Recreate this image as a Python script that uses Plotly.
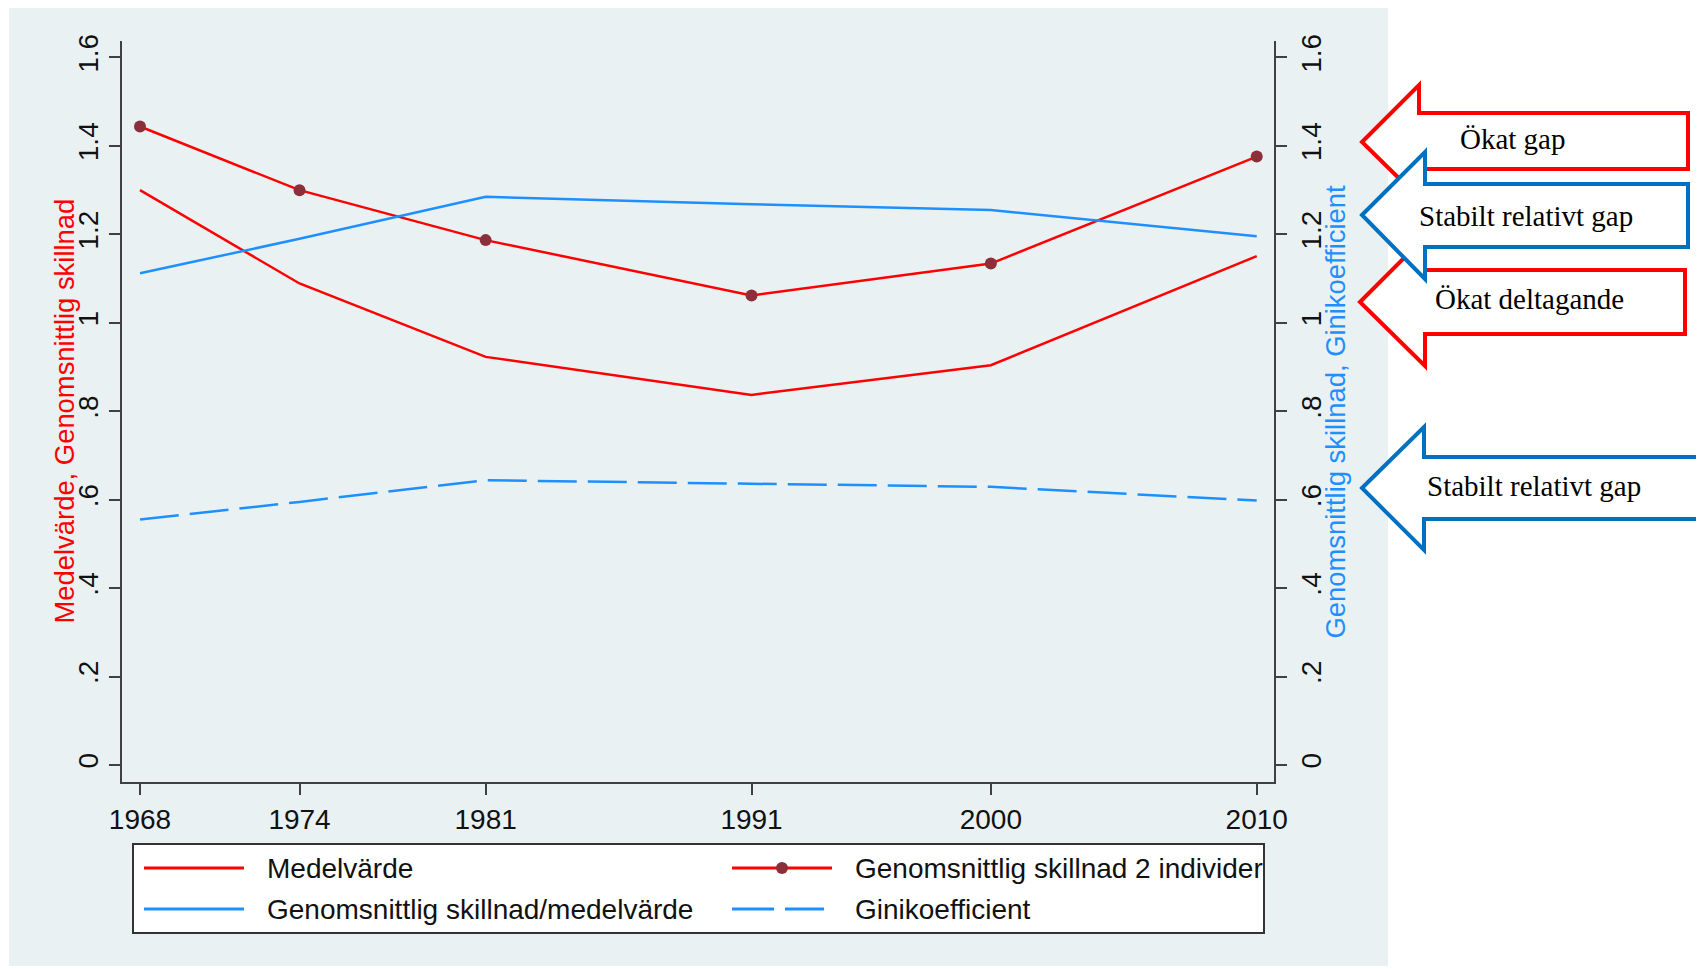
import plotly.graph_objects as go

# data
years = [1968, 1974, 1981, 1991, 2000, 2010]
medelvarde = [1.300, 1.089, 0.923, 0.837, 0.904, 1.151]
skillnad_2ind = [1.444, 1.300, 1.187, 1.062, 1.134, 1.376]
skillnad_per_medel = [1.112, 1.190, 1.285, 1.268, 1.255, 1.196]
gini = [0.555, 0.595, 0.644, 0.636, 0.629, 0.598]

y_ticks = [0, 0.2, 0.4, 0.6, 0.8, 1.0, 1.2, 1.4, 1.6]
y_labels = ["0", ".2", ".4", ".6", ".8", "1", "1.2", "1.4", "1.6"]

legend_names = ["Medelvärde", "Genomsnittlig skillnad 2 individer",
                "Genomsnittlig skillnad/medelvärde", "Ginikoefficient"]
arrow_texts = ["Ökat gap", "Stabilt relativt gap", "Ökat deltagande", "Stabilt relativt gap"]

# page size and plot box in page pixels; the page body adds an 8px margin
W, H = 1704, 969
OFF = 8
L, R, T, B = 122, 1274, 41, 782

RED = "#FF0000"
BLUE = "#1E8FFF"
ARROW_BLUE = "#0070C0"
MAROON = "#8B2F3A"
GREY_BG = "#EAF1F3"
GRID = "#EAF1F3"
AXIS = "#404040"
FONT = "Liberation Sans"


def px(x):
    return (x - L) / (R - L)


def py(y):
    return (B - y) / (B - T)


fig = go.Figure()
fig.add_trace(go.Scatter(x=years, y=medelvarde, mode="lines", name=legend_names[0],
                         line=dict(color=RED, width=2.5)))
fig.add_trace(go.Scatter(x=years, y=skillnad_2ind, mode="lines+markers", name=legend_names[1],
                         line=dict(color=RED, width=2.5),
                         marker=dict(color=MAROON, size=12)))
fig.add_trace(go.Scatter(x=years, y=skillnad_per_medel, mode="lines", name=legend_names[2],
                         line=dict(color=BLUE, width=2.5), yaxis="y2"))
fig.add_trace(go.Scatter(x=years, y=gini, mode="lines", name=legend_names[3],
                         line=dict(color=BLUE, width=2.5, dash="39px,11px"), yaxis="y2"))

yrange = [-0.0384, 1.6373]
xrange = [1967.323, 2010.65]

shapes = []
annotations = []

# grey graph region
shapes.append(dict(type="rect", xref="paper", yref="paper", layer="below",
                   x0=px(9), x1=px(1388), y0=py(966), y1=py(5),
                   fillcolor=GREY_BG, line_width=0))

# manual Stata-style legend
lx0, lx1, ly0, ly1 = 133, 1264, 844, 933
shapes.append(dict(type="rect", xref="paper", yref="paper",
                   x0=px(lx0), x1=px(lx1), y0=py(ly1), y1=py(ly0),
                   fillcolor="white", line=dict(color="#333333", width=2)))
rows = [868, 909]
cols = [(144, 244, 265), (732, 832, 853)]
entries = [
    (0, 0, RED, False, False),
    (0, 1, RED, False, True),
    (1, 0, BLUE, False, False),
    (1, 1, BLUE, True, False),
]
for i, (r, c, color, dash, marker) in enumerate(entries):
    x0, x1, xt = cols[c]
    yy = rows[r]
    segs = [(x0, x0 + 42), (x0 + 53, x1 - 8)] if dash else [(x0, x1)]
    for a, b in segs:
        shapes.append(dict(type="line", xref="paper", yref="paper",
                           x0=px(a), x1=px(b), y0=py(yy), y1=py(yy),
                           line=dict(color=color, width=3)))
    if marker:
        m = (x0 + x1) / 2
        shapes.append(dict(type="circle", xref="paper", yref="paper",
                           x0=px(m - 6), x1=px(m + 6), y0=py(yy + 6), y1=py(yy - 6),
                           fillcolor=MAROON, line_width=0))
    annotations.append(dict(text=legend_names[i], xref="paper", yref="paper",
                            x=px(xt), y=py(yy), xanchor="left", yanchor="middle",
                            showarrow=False, font=dict(family=FONT, size=28, color="#111111")))

# axis titles
annotations.append(dict(text="Medelvärde, Genomsnittlig skillnad", xref="paper", yref="paper",
                        x=px(64), y=py((T + B) / 2), textangle=-90, showarrow=False,
                        xanchor="center", yanchor="middle",
                        font=dict(family=FONT, size=27.4, color=RED)))
annotations.append(dict(text="Genomsnittlig skillnad, Ginikoefficient", xref="paper", yref="paper",
                        x=px(1335), y=py((T + B) / 2), textangle=-90, showarrow=False,
                        xanchor="center", yanchor="middle",
                        font=dict(family=FONT, size=27.4, color=BLUE)))


def arrow_path(tip_x, tip_y, head_x, head_top, head_bot, sh_top, sh_bot, end_x):
    pts = [(tip_x, tip_y), (head_x, head_top), (head_x, sh_top), (end_x, sh_top),
           (end_x, sh_bot), (head_x, sh_bot), (head_x, head_bot)]
    return "M " + " L ".join(f"{px(a):.5f},{py(b):.5f}" for a, b in pts) + " Z"


# (color, text index, tip x, tip y, head x, head top, head bottom,
#  shaft top, shaft bottom, end x, text x, text y)
arrows = [
    (RED, 0, 1362, 142, 1419, 85, 198, 113, 169, 1688, 1513, 139),
    (RED, 2, 1360, 302, 1425, 237, 366, 270, 334, 1685, 1529, 299),
    (ARROW_BLUE, 3, 1362, 488, 1424, 427, 550, 457, 519, 1699, 1534, 486),
    (ARROW_BLUE, 1, 1362, 215, 1425, 152, 279, 184, 247, 1688, 1526, 216),
]
for color, ti, tx, ty, hx, ht, hb, st, sb, ex, lx, ly in arrows:
    shapes.append(dict(type="path", xref="paper", yref="paper",
                       path=arrow_path(tx, ty, hx, ht, hb, st, sb, ex),
                       fillcolor="white", line=dict(color=color, width=4)))
for color, ti, tx, ty, hx, ht, hb, st, sb, ex, lx, ly in arrows:
    annotations.append(dict(text=arrow_texts[ti], xref="paper", yref="paper",
                            x=px(lx), y=py(ly), xanchor="center", yanchor="middle",
                            showarrow=False,
                            font=dict(family="Liberation Serif", size=29, color="black")))

yaxis_common = dict(range=yrange, tickvals=y_ticks, ticktext=y_labels, tickangle=-90,
                    ticks="outside", ticklen=11, tickwidth=2, tickcolor=AXIS,
                    showline=True, linecolor=AXIS, linewidth=2, zeroline=False,
                    tickfont=dict(family=FONT, size=28, color="#111111"))

fig.update_layout(
    width=W - OFF, height=H - OFF,
    margin=dict(l=L - OFF, r=W - R, t=T - OFF, b=H - B, pad=0),
    paper_bgcolor="white",
    plot_bgcolor="white",
    showlegend=False,
    shapes=shapes,
    annotations=annotations,
    xaxis=dict(range=xrange, tickvals=years, ticktext=[str(y) for y in years],
               ticks="outside", ticklen=11, tickwidth=2, tickcolor=AXIS,
               showline=True, linecolor=AXIS, linewidth=2, showgrid=False, zeroline=False,
               tickfont=dict(family=FONT, size=28, color="#111111")),
    yaxis=dict(**yaxis_common, showgrid=True, gridcolor=GRID, gridwidth=2, side="left"),
    yaxis2=dict(**yaxis_common, showgrid=False, overlaying="y", side="right"),
)

fig.write_html("out.html")
